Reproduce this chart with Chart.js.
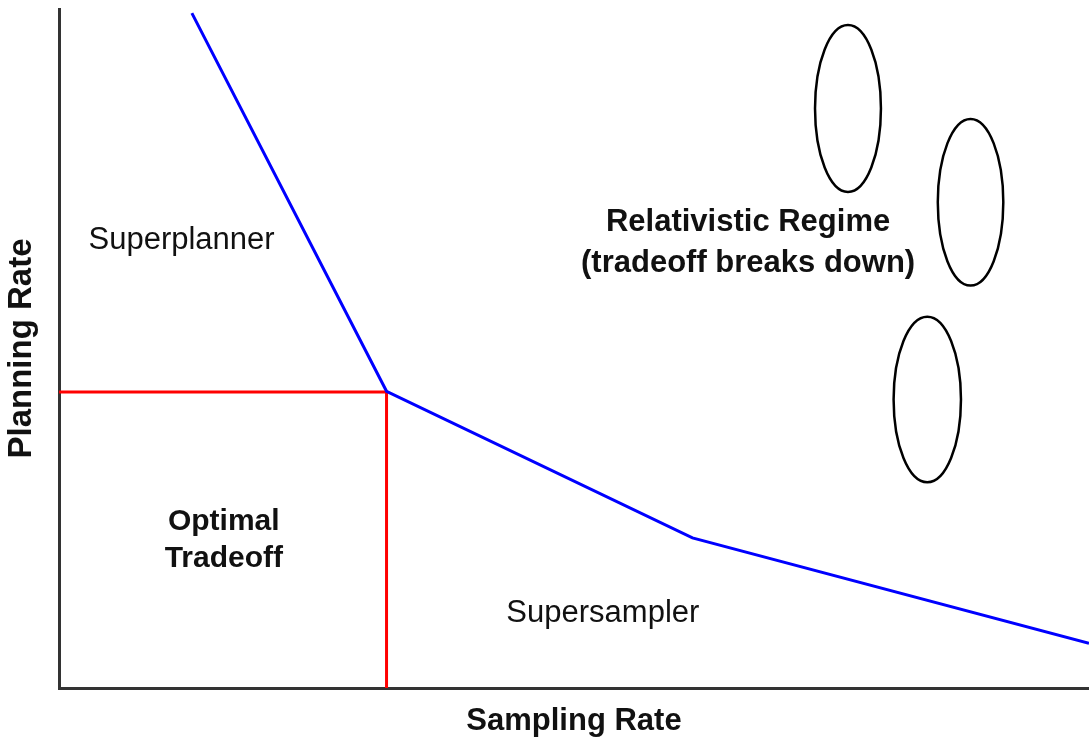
<!DOCTYPE html>
<html>
<head>
<meta charset="utf-8">
<script src="https://cdn.jsdelivr.net/npm/chart.js@4/dist/chart.umd.min.js"></script>
<style>
  html, body { margin: 0; padding: 0; background: #ffffff; }
  #wrap { width: 1089px; height: 743px; }
</style>
</head>
<body>
<div id="wrap"><canvas id="c" width="1089" height="743"></canvas></div>
<script>
// ---- data (abstract units: 0..10 on both axes) ----
const frontierX = [1.29, 3.18, 6.15, 10.0];
const frontierY = [9.94, 4.37, 2.21, 0.66];

const optimalX = [0, 3.18, 3.18];
const optimalY = [4.36, 4.36, 0];

const ellipseCX = [7.66, 8.85, 8.43];
const ellipseCY = [8.535, 7.153, 4.249];
const ellipseRX = [0.320, 0.318, 0.327];
const ellipseRY = [1.23, 1.227, 1.22];

const xTitle = 'Sampling Rate';
const yTitle = 'Planning Rate';

const labelTexts = [['Superplanner'], ['Relativistic Regime', '(tradeoff breaks down)'], ['Optimal', 'Tradeoff'], ['Supersampler']];

const FONT = "'Liberation Sans', Arial, Helvetica, sans-serif";

function toPts(xs, ys) { return xs.map((x, i) => ({ x: x, y: ys[i] })); }

// labels placed at data coordinates (x = centre, y = first baseline)
const labelPlacement = [
  { x: 1.19, y: 6.47, bold: false, size: 31, gap: 0 },
  { x: 6.69, y: 6.73, bold: true, size: 31, gap: 0.605 },
  { x: 1.60, y: 2.33, bold: true, size: 30, gap: 0.545 },
  { x: 5.28, y: 0.97, bold: false, size: 31, gap: 0 }
];

const overlayPlugin = {
  id: 'overlay',
  afterDatasetsDraw(chart) {
    const ctx = chart.ctx;
    const xs = chart.scales.x, ys = chart.scales.y;
    ctx.save();
    // ellipses
    ctx.strokeStyle = '#000000';
    ctx.lineWidth = 2.5;
    for (let i = 0; i < ellipseCX.length; i++) {
      const cx = xs.getPixelForValue(ellipseCX[i]);
      const cy = ys.getPixelForValue(ellipseCY[i]);
      const rx = xs.getPixelForValue(ellipseCX[i] + ellipseRX[i]) - cx;
      const ry = cy - ys.getPixelForValue(ellipseCY[i] + ellipseRY[i]);
      ctx.beginPath();
      ctx.ellipse(cx, cy, rx, ry, 0, 0, Math.PI * 2);
      ctx.stroke();
    }
    // text labels
    ctx.fillStyle = '#111111';
    ctx.textAlign = 'center';
    ctx.textBaseline = 'alphabetic';
    labelTexts.forEach((lines, i) => {
      const p = labelPlacement[i];
      ctx.font = (p.bold ? 'bold ' : '') + p.size + 'px ' + FONT;
      lines.forEach((t, j) => {
        const px = xs.getPixelForValue(p.x);
        const py = ys.getPixelForValue(p.y - j * p.gap);
        ctx.fillText(t, px, py);
      });
    });
    ctx.restore();
  }
};

new Chart(document.getElementById('c'), {
  type: 'scatter',
  data: {
    datasets: [
      {
        label: 'Frontier',
        data: toPts(frontierX, frontierY),
        showLine: true,
        borderColor: '#0000ff',
        borderWidth: 3,
        pointRadius: 0,
        tension: 0,
        fill: false
      },
      {
        label: 'Optimal',
        data: toPts(optimalX, optimalY),
        showLine: true,
        borderColor: '#ff0000',
        borderWidth: 3,
        pointRadius: 0,
        tension: 0,
        fill: false
      }
    ]
  },
  options: {
    responsive: false,
    devicePixelRatio: 1,
    animation: false,
    layout: { padding: { top: 9, right: 0, bottom: 0, left: 0 } },
    plugins: {
      legend: { display: false },
      tooltip: { enabled: false },
      title: { display: false }
    },
    scales: {
      x: {
        type: 'linear',
        min: 0, max: 10,
        grid: { display: false },
        border: { display: true, color: '#333333', width: 3 },
        ticks: { display: false },
        title: {
          display: true,
          text: xTitle,
          color: '#111111',
          font: { family: FONT, size: 31, weight: 'bold', lineHeight: 1 },
          padding: { top: 0, bottom: 6.2 }
        },
        afterFit(scale) { scale.height = 55; }
      },
      y: {
        type: 'linear',
        min: 0, max: 10,
        grid: { display: false },
        border: { display: true, color: '#333333', width: 3 },
        ticks: { display: false },
        title: {
          display: true,
          text: yTitle,
          color: '#111111',
          font: { family: FONT, size: 33, weight: 'bold', lineHeight: 1 },
          padding: { top: 5.6, bottom: 0 }
        },
        afterFit(scale) { scale.width = 59; }
      }
    }
  },
  plugins: [overlayPlugin]
});
</script>
</body>
</html>
